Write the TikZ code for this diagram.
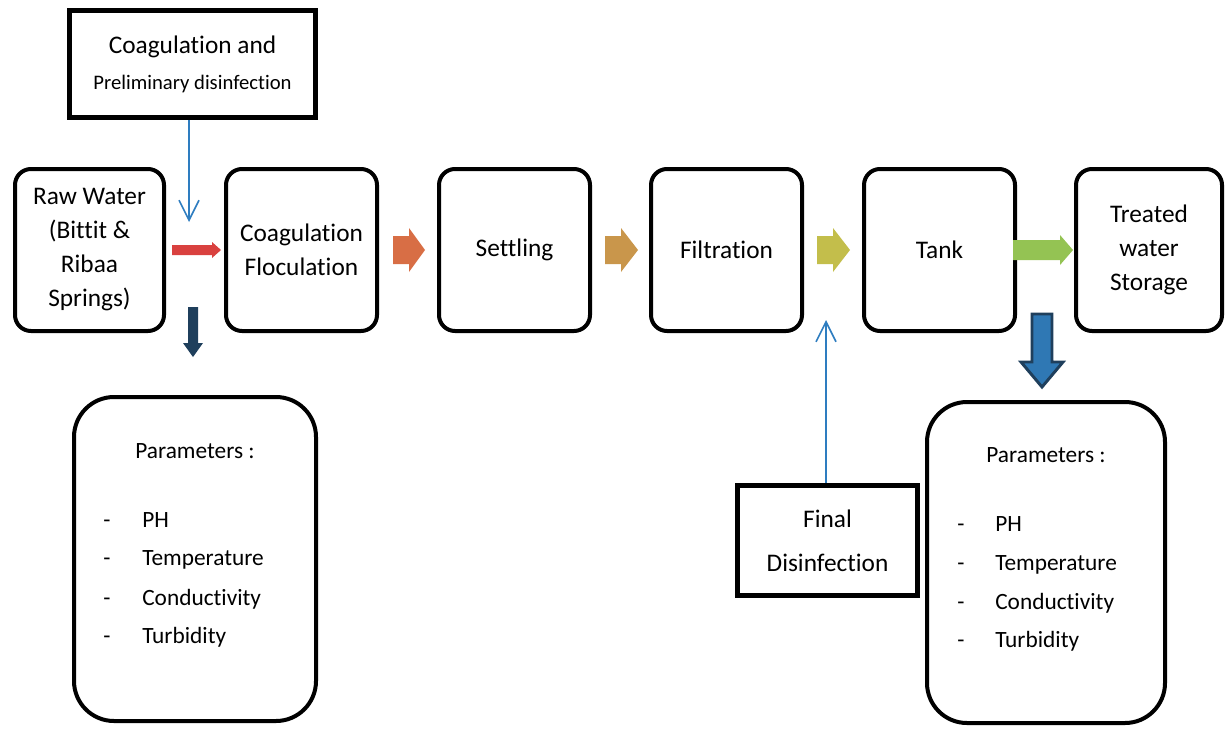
\documentclass[tikz,border=0pt]{standalone}
\usepackage{fontspec}
\setmainfont{Carlito}[Ligatures={NoCommon}]
\usetikzlibrary{arrows.meta}
\definecolor{cRed}{RGB}{217,65,63}
\definecolor{cOrange}{RGB}{216,110,69}
\definecolor{cTan}{RGB}{201,150,75}
\definecolor{cYel}{RGB}{195,190,75}
\definecolor{cGreen}{RGB}{148,195,83}
\definecolor{cNavy}{RGB}{31,63,92}
\definecolor{cBlue}{RGB}{47,120,180}
\definecolor{cLine}{RGB}{46,125,192}
\begin{document}
\begin{tikzpicture}[x=0.75pt,y=-0.75pt,
  proc/.style={draw, line width=3pt, rounded corners=12pt, minimum width=151*0.75pt,
    minimum height=162*0.75pt, align=center, inner sep=0pt,
    font=\fontsize{19}{25.5}\selectfont},
  sbox/.style={draw, line width=3.6pt, inner sep=0pt, align=center},
  pbox/.style={draw, line width=3pt, rounded corners=30pt, inner sep=0pt},
  ptxt/.style={inner sep=0pt, font=\fontsize{17.5}{20}\selectfont},
  thinarrow/.style={draw=cLine, line width=1.2pt, -{Straight Barb[length=15pt,width=15pt,line width=1.2pt]}}
]
\useasboundingbox (0,0) rectangle (1226,728);

% top box
\node[sbox, minimum width=246*0.75pt, minimum height=107*0.75pt] (top) at (192.5,64)
  {\fontsize{19}{28.5}\selectfont Coagulation and\\[12pt]\fontsize{15.5}{20}\selectfont Preliminary disinfection};

% process boxes
\node[proc, minimum width=149*0.75pt] (raw) at (89.5,250) {Raw Water\\(Bittit \&\\Ribaa\\Springs)};
\node[proc] (coag) at (301.5,250) {Coagulation\\Floculation};
\node[proc] (settle) at (514.5,250) {Settling};
\node[proc] (filt) at (726.5,250) {Filtration};
\node[proc] (tank) at (939.5,250) {Tank};
\node[proc, minimum width=146*0.75pt] (treat) at (1149,250) {Treated\\water\\Storage};

% final disinfection
\node[sbox, minimum width=180*0.75pt, minimum height=110*0.75pt,
  font=\fontsize{19}{33}\selectfont] (final) at (827.5,540.5) {Final\\Disinfection};

% parameter boxes
\node[pbox, minimum width=242*0.75pt, minimum height=324*0.75pt] (lpar) at (195,559) {};
\node[pbox, minimum width=238*0.75pt, minimum height=321*0.75pt] (rpar) at (1046,562.5) {};

\node[ptxt, anchor=base] (lhead) at (195,458) {Parameters :};
\foreach \t/\y [count=\i] in {PH/527,Temperature/565,Conductivity/605,Turbidity/643}{
  \node[ptxt, anchor=base] (ld\i) at (107,\y) {-};
  \node[ptxt, anchor=base west] (li\i) at (142,\y) {\t};
}
\node[ptxt, anchor=base] (rhead) at (1046,462) {Parameters :};
\foreach \t/\y [count=\i] in {PH/531,Temperature/570,Conductivity/609,Turbidity/647}{
  \node[ptxt, anchor=base] (rd\i) at (961,\y) {-};
  \node[ptxt, anchor=base west] (ri\i) at (995,\y) {\t};
}

% thin blue arrows
\coordinate (c1) at (189,222);
\draw[thinarrow] (top.south -| c1) -- (c1);
\coordinate (c2) at (826,320);
\draw[thinarrow] (final.north -| c2) -- (c2);

% block arrows (horizontal)
\fill[cRed] (172,245) -- (212,245) -- (212,242) -- (221,250) -- (212,258) -- (212,255) -- (172,255) -- cycle;
\fill[cOrange] (393,236) -- (409,236) -- (409,228) -- (425,250) -- (409,272) -- (409,264) -- (393,264) -- cycle;
\fill[cTan] (605,236) -- (621,236) -- (621,228) -- (638,250) -- (621,272) -- (621,264) -- (605,264) -- cycle;
\fill[cYel] (817,236) -- (833,236) -- (833,228) -- (850,250) -- (833,272) -- (833,264) -- (817,264) -- cycle;
\fill[cGreen] (1013,240) -- (1060,240) -- (1060,235) -- (1073,250) -- (1060,265) -- (1060,260) -- (1013,260) -- cycle;

% down arrows
\fill[cNavy] (188,307) -- (198,307) -- (198,343) -- (203,343) -- (193,357) -- (183,343) -- (188,343) -- cycle;
\filldraw[fill=cBlue, draw=cNavy, line width=2.2pt, line join=miter]
  (1032,314) -- (1052,314) -- (1052,362) -- (1063,362) -- (1042,387) -- (1021,362) -- (1032,362) -- cycle;
\end{tikzpicture}
\end{document}
